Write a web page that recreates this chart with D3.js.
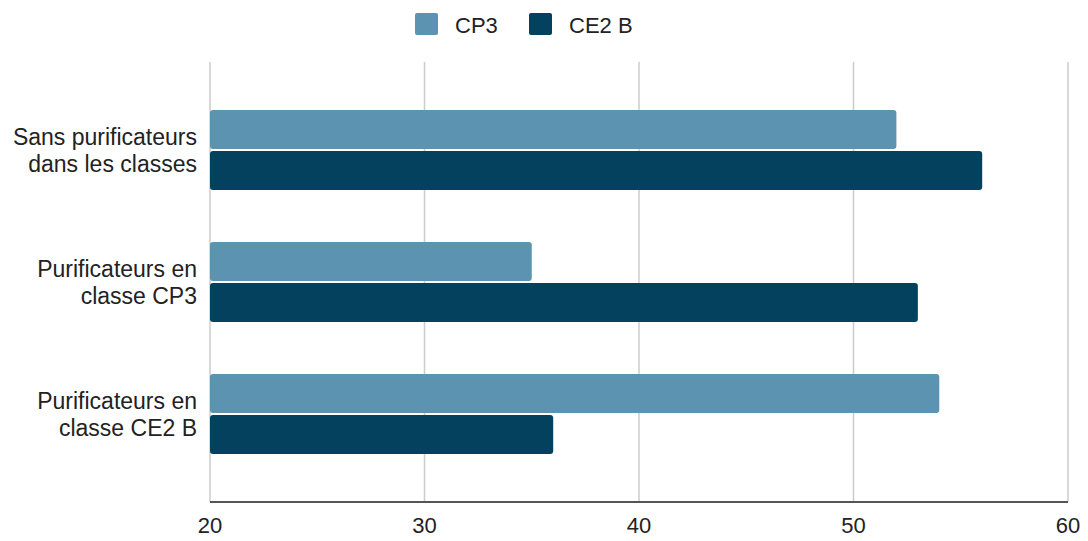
<!DOCTYPE html>
<html>
<head>
<meta charset="utf-8">
<script src="https://cdn.jsdelivr.net/npm/d3@7"></script>
<style>
  html, body { margin: 0; padding: 0; background: #fff; }
  svg text { font-family: "Liberation Sans", Arial, sans-serif; fill: #222; }
</style>
</head>
<body>
<svg id="chart" width="1088" height="541"></svg>
<script>
const categories = [
  ["Sans purificateurs", "dans les classes"],
  ["Purificateurs en", "classe CP3"],
  ["Purificateurs en", "classe CE2 B"]
];
const seriesNames = ["CP3", "CE2 B"];
const cp3Values = [52, 35, 54];
const ce2bValues = [56, 53, 36];
const tickValues = [20, 30, 40, 50, 60];
const colors = ["#5b93b0", "#03415f"];

const svg = d3.select("#chart");
const margin = { left: 210, right: 20, top: 62, bottom: 39 };
const W = 1088, H = 541;

const x = d3.scaleLinear().domain([20, 60]).range([margin.left, W - margin.right]);
const catKeys = categories.map((c, i) => i);
const y0 = d3.scaleBand().domain(catKeys).range([margin.top, H - margin.bottom])
  .paddingInner(0.394).paddingOuter(0.364);
const y1 = d3.scaleBand().domain(seriesNames).range([0, y0.bandwidth()]).paddingInner(0.05);

// gridlines
svg.append("g").selectAll("line").data(tickValues).join("line")
  .attr("x1", d => x(d)).attr("x2", d => x(d))
  .attr("y1", margin.top).attr("y2", H - margin.bottom)
  .attr("stroke", "#cccccc").attr("stroke-width", 1.5);

// bars
const seriesData = [cp3Values, ce2bValues];
const g = svg.append("g");
catKeys.forEach(ci => {
  seriesNames.forEach((s, si) => {
    g.append("rect")
      .attr("x", x(20))
      .attr("y", y0(ci) + y1(s))
      .attr("width", x(seriesData[si][ci]) - x(20))
      .attr("height", y1.bandwidth())
      .attr("rx", 3).attr("ry", 3)
      .attr("fill", colors[si]);
  });
});

// x axis baseline
svg.append("line")
  .attr("x1", x(20)).attr("x2", x(60))
  .attr("y1", H - margin.bottom).attr("y2", H - margin.bottom)
  .attr("stroke", "#555").attr("stroke-width", 2);

// tick labels
svg.append("g").selectAll("text").data(tickValues).join("text")
  .attr("x", d => x(d)).attr("y", H - margin.bottom + 31)
  .attr("text-anchor", "middle").attr("font-size", 22)
  .text(d => d);

// category labels
catKeys.forEach(ci => {
  const cy = y0(ci) + y0.bandwidth() / 2;
  const t = svg.append("text").attr("text-anchor", "end").attr("font-size", 23);
  categories[ci].forEach((line, li) => {
    t.append("tspan").attr("x", 197).attr("y", cy - 5 + li * 27).text(line);
  });
});

// legend
const legend = svg.append("g");
const legendX = [415, 529];
seriesNames.forEach((s, i) => {
  legend.append("rect").attr("x", legendX[i]).attr("y", 13).attr("width", 23).attr("height", 22)
    .attr("rx", 2).attr("fill", colors[i]);
  legend.append("text").attr("x", legendX[i] + 40).attr("y", 33)
    .attr("font-size", 22).text(s);
});
</script>
</body>
</html>
